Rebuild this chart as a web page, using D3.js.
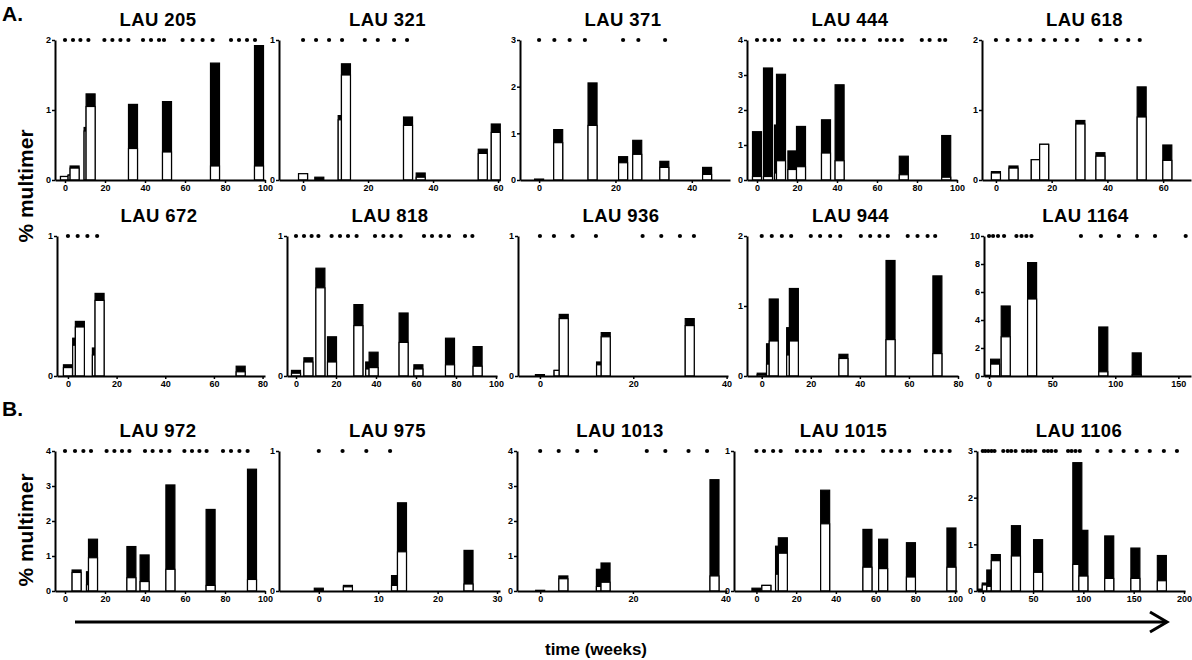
<!DOCTYPE html>
<html>
<head>
<meta charset="utf-8">
<script src="https://cdn.jsdelivr.net/npm/d3@7"></script>
<style>
body { margin: 0; background: #fff; }
svg { display: block; font-family: "Liberation Sans", Arial, sans-serif; }
</style>
</head>
<body>
<svg id="fig" width="1192" height="660"></svg>
<script>
// patients, one small chart each
const panelNames = ["LAU 205","LAU 321","LAU 371","LAU 444","LAU 618",
                    "LAU 672","LAU 818","LAU 936","LAU 944","LAU 1164",
                    "LAU 972","LAU 975","LAU 1013","LAU 1015","LAU 1106"];
const yMax = [2,1,3,4,2, 1,1,1,2,10, 4,1,4,1,3];
const yTicks = [[0,1,2],[0,1],[0,1,2,3],[0,1,2,3,4],[0,1,2],
                [0,1],[0,1],[0,1],[0,1,2],[0,2,4,6,8,10],
                [0,1,2,3,4],[0,1],[0,1,2,3,4],[0,1],[0,1,2,3]];
const xTicks = [[0,20,40,60,80,100],[0,20,40,60],[0,20,40],[0,20,40,60,80,100],[0,20,40,60],
                [0,20,40,60,80],[0,20,40,60,80,100],[0,20,40],[0,20,40,60,80],[0,50,100,150],
                [0,20,40,60,80,100],[0,10,20,30],[0,20,40],[0,20,40,60,80,100],[0,50,100,150,200]];

// sampling time points (dots along the top)
const sampleWeeks = [
  [0,4,7.7,11.7,19.7,23.7,27.7,31.7,39,43,47,49.5,58.8,63.8,68.8,73.8,83,87,91,95],
  [0,4,8,12,19,23,28,32],
  [0,4,8,12,22,26,33],
  [0,3.8,7.5,11,19,22.7,29.3,33.1,41,44.8,48.2,53.5,61.5,64.9,68.6,72.4,82.4,86.3,91.3,94.1],
  [0,4.2,8.4,12.3,17.1,21.2,25.4,29.2,37.6,43.2,47.5,51.6],
  [0,4,8,12],
  [0,4,7.8,11.2,17.8,22,26,30.3,39.5,43.7,47.8,52.3,64,68,72.3,76.5,84.5,88.2],
  [0,3,7,12,22,26,30,33],
  [0,4.1,8.2,12,20,23.8,27.9,32,40.4,44.2,48,51.4,59.5,63.5,67.6,70.7],
  [0,3.2,7.1,11.9,21.7,25.7,29.6,33.6,72.8,88.6,102.9,117.2,131.5,155.8],
  [0,5,9.2,13,20.8,24.7,28.5,32.2,40,43.8,48,52.2,59.7,63.5,67.2,70.8,79,83,87.2,91.3],
  [0,4,8,12],
  [0,4,8,12,23,27,32,36],
  [0,3.8,8.4,12.2,20.4,24.2,28,32,40.7,45,49.5,53.6,63.8,67.9,72.4,76.9,85.3,89.4,93.2,97.3],
  [0,2.5,5.5,8.7,11.7,20.4,24.8,28.3,32.6,40,44.3,47.8,52.2,60.9,64.8,68.3,72.6,84.8,88.3,92.2,96.5,113.9,127,140,153,166,180,193]
];

// measured time points: total % multimer and the part shown in white
const barWeeks = [
  [0,3.8,4.8,11.8,12.8,34,51,75,97],
  [0,5,12.2,13.2,32.3,36.2,55.3,59.3],
  [0,5,14,22,25.7,32.8,44],
  [0,5.5,11,12,17.7,22,34.5,41.3,73.4,94.6],
  [0,6.3,14.3,17.3,30.3,37.5,52.3,61.5],
  [0,3.8,4.9,11.9,13,71],
  [0,6.2,12.2,18,31.2,37.1,38.8,53.8,61.2,77,90.8],
  [0,4,5.1,13.1,14.1,32.1],
  [0,3.8,4.9,12,13.1,33.3,52.5,71.6],
  [0,4.8,13.2,34.1,90.5,117],
  [5.8,13,14,33.2,39.8,52.7,72.8,93.5],
  [0,4.9,13,14,25.2],
  [0,5,13.1,14.1,37.6],
  [0,5,11.9,13.3,34.6,55.9,63.8,77.8,98.2],
  [0,4,8.5,13,33,55,94,100,125.7,151.7,178]
];
const barTotal = [
  [0.05,0.07,0.2,0.75,1.23,1.08,1.12,1.67,1.92],
  [0.045,0.02,0.46,0.83,0.45,0.05,0.22,0.4],
  [0.02,1.08,2.08,0.5,0.85,0.4,0.27],
  [1.38,3.2,1.57,3.02,0.83,1.53,1.72,2.72,0.68,1.27],
  [0.12,0.2,0.29,0.51,0.85,0.39,1.33,0.5],
  [0.08,0.27,0.39,0.2,0.59,0.07],
  [0.04,0.13,0.77,0.28,0.51,0.1,0.17,0.45,0.08,0.27,0.21],
  [0.01,0.04,0.44,0.1,0.31,0.41],
  [0.04,0.46,1.1,0.69,1.25,0.31,1.65,1.43],
  [0.05,1.2,5.0,8.1,3.5,1.65],
  [0.6,0.55,1.48,1.27,1.03,3.03,2.33,3.48],
  [0.02,0.04,0.11,0.63,0.29],
  [0.02,0.43,0.62,0.8,3.18],
  [0.02,0.04,0.32,0.38,0.72,0.44,0.37,0.345,0.45],
  [0.04,0.17,0.45,0.78,1.4,1.1,2.75,1.3,1.18,0.92,0.76]
];
const barWhite = [
  [0.05,0.07,0.17,0.7,1.05,0.45,0.4,0.2,0.2],
  [0.045,0,0.43,0.75,0.39,0.02,0.19,0.34],
  [0,0.8,1.17,0.37,0.55,0.27,0.12],
  [0.1,0.1,0.2,0.55,0.3,0.38,0.77,0.55,0.15,0.08],
  [0.1,0.17,0.29,0.51,0.8,0.34,0.9,0.28],
  [0.06,0.22,0.35,0.15,0.54,0.03],
  [0.02,0.1,0.63,0.1,0.36,0.05,0.06,0.24,0.05,0.08,0.07],
  [0,0.04,0.41,0.08,0.28,0.36],
  [0.02,0.17,0.5,0.3,0.5,0.25,0.52,0.32],
  [0,0.85,2.8,5.5,0.3,0.1],
  [0.53,0.18,0.95,0.38,0.27,0.62,0.16,0.33],
  [0,0.03,0.04,0.28,0.05],
  [0,0.35,0.13,0.25,0.43],
  [0,0.04,0.12,0.27,0.48,0.17,0.16,0.1,0.17],
  [0,0.13,0.1,0.65,0.75,0.4,0.57,0.32,0.27,0.27,0.22]
];

// layout: left px, right px, x domain min, x domain max, row
const frames = [
  [55,265,-5,100,0],[279,500,-7.4,60.6,0],[520,730,-5,50,0],[747,957,-5,100,0],[982,1191,-5,70,0],
  [57,265,-4.5,81,1],[287,497,-4.5,100.5,1],[518,728,-4.7,40.3,1],[747,958,-6,80,1],[984,1191,-4,160,1],
  [55,265,-5,100,2],[279,500,-6.7,30.5,2],[517,727,-5,40.3,2],[734,957,-11.3,101,2],[977,1185,-5.7,201,2]
];
const rowTop = [40, 236, 451];
const rowBase = [180, 376, 591];
const barW = 9;

const svg = d3.select("#fig");

panelNames.forEach(function(name, i) {
  const f = frames[i];
  const x = d3.scaleLinear().domain([f[2], f[3]]).range([f[0], f[1]]);
  const y = d3.scaleLinear().domain([0, yMax[i]]).range([rowBase[f[4]], rowTop[f[4]]]);
  const g = svg.append("g");

  g.append("text")
    .attr("x", (f[0] + f[1]) / 2 - 2)
    .attr("y", rowTop[f[4]] - 14)
    .attr("text-anchor", "middle")
    .attr("font-size", 18.5)
    .attr("letter-spacing", 0.4)
    .attr("font-weight", "bold")
    .text(name);

  const bars = barWeeks[i].map((w, j) => ({w: w, t: barTotal[i][j], wh: barWhite[i][j]}));
  const bg = g.selectAll("g.bar").data(bars).join("g").attr("class", "bar");
  bg.append("rect")
    .attr("x", d => x(d.w) - barW / 2)
    .attr("width", barW)
    .attr("y", d => y(d.t))
    .attr("height", d => y(0) - y(d.t))
    .attr("fill", "#000")
    .attr("stroke", "#000")
    .attr("stroke-width", 1.2);
  bg.filter(d => d.wh > 0).append("rect")
    .attr("x", d => x(d.w) - barW / 2)
    .attr("width", barW)
    .attr("y", d => y(d.wh))
    .attr("height", d => y(0) - y(d.wh))
    .attr("fill", "#fff")
    .attr("stroke", "#000")
    .attr("stroke-width", 1.2);

  g.selectAll("circle").data(sampleWeeks[i]).join("circle")
    .attr("cx", d => x(d))
    .attr("cy", y(yMax[i]))
    .attr("r", 2.1)
    .attr("fill", "#000");

  const yAxis = g.append("g")
    .attr("transform", "translate(" + f[0] + ",0)")
    .call(d3.axisLeft(y).tickValues(yTicks[i]).tickFormat(d3.format("d"))
      .tickSize(3).tickSizeOuter(0).tickPadding(1));
  const xAxis = g.append("g")
    .attr("transform", "translate(0," + y(0) + ")")
    .call(d3.axisBottom(x).tickValues(xTicks[i]).tickFormat(d3.format("d"))
      .tickSize(3).tickSizeOuter(0).tickPadding(2));

  [yAxis, xAxis].forEach(a => {
    a.select(".domain").attr("stroke-width", 2);
    a.selectAll(".tick line").attr("stroke-width", 1.5);
    a.selectAll("text")
      .attr("font-family", "Liberation Sans, Arial, sans-serif")
      .attr("font-size", 9)
      .attr("font-weight", "bold")
      .attr("fill", "#000");
  });
});

// panel letters and shared labels
svg.append("text").attr("x", 2).attr("y", 21)
  .attr("font-size", 21).attr("font-weight", "bold").text("A.");
svg.append("text").attr("x", 2).attr("y", 416)
  .attr("font-size", 21).attr("font-weight", "bold").text("B.");

[186, 530].forEach(cy => {
  svg.append("text")
    .attr("transform", "translate(33," + cy + ") rotate(-90)")
    .attr("text-anchor", "middle")
    .attr("font-size", 21)
    .attr("font-weight", "bold")
    .text("% multimer");
});

svg.append("line")
  .attr("x1", 75).attr("x2", 1166)
  .attr("y1", 622).attr("y2", 622)
  .attr("stroke", "#000").attr("stroke-width", 3);
svg.append("path")
  .attr("d", "M1150,612 L1167,622 L1150,632")
  .attr("fill", "none").attr("stroke", "#000").attr("stroke-width", 3);

svg.append("text")
  .attr("x", 596).attr("y", 655)
  .attr("text-anchor", "middle")
  .attr("font-size", 17)
  .attr("font-weight", "bold")
  .text("time (weeks)");
</script>
</body>
</html>
